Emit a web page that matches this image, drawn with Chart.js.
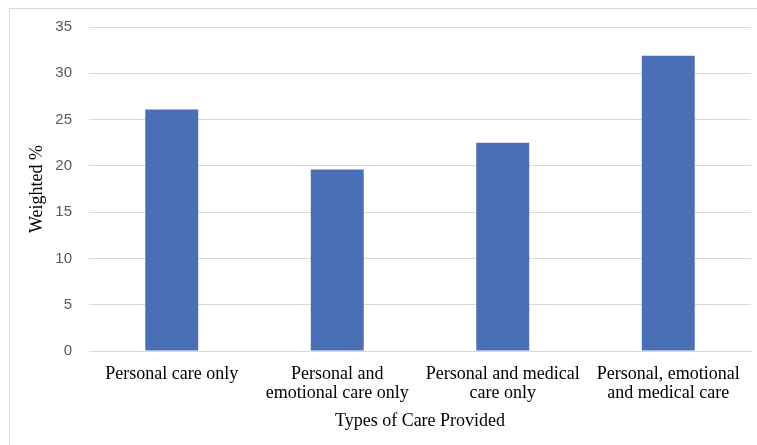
<!DOCTYPE html>
<html>
<head>
<meta charset="utf-8">
<script src="https://cdn.jsdelivr.net/npm/chart.js@4"></script>
<style>
    body { margin: 0; background: #fff; overflow: hidden; }
    #box {
        position: absolute; left: 9px; top: 8px;
        width: 770px; height: 460px;
        border: 1px solid #d9d9d9;
    }
</style>
</head>
<body>
<div id="box"><canvas id="care_chart" width="746" height="430"></canvas></div>
<script>
// values
const categories = [
    ['Personal care only'],
    ['Personal and', 'emotional care only'],
    ['Personal and medical', 'care only'],
    ['Personal, emotional', 'and medical care']
];
const weighted = [26.1, 19.6, 22.5, 31.9];
const yTicks = [0, 5, 10, 15, 20, 25, 30, 35];

function care_bar_chart() {

    const data = {
        labels: categories,
        datasets: [{
            label: 'Weighted %',
            backgroundColor: '#4a6fb6',
            borderWidth: 0,
            barPercentage: 0.32,
            categoryPercentage: 1,
            data: weighted
        }]
    };

    const config = {
        type: 'bar',
        data: data,
        options: {
            responsive: false,
            animation: false,
            layout: { padding: { left: 0, right: 5, top: 18, bottom: 0 } },
            plugins: {
                legend: { display: false },
                tooltip: { enabled: false }
            },
            scales: {
                x: {
                    grid: { display: false },
                    border: { color: '#d9d9d9' },
                    ticks: {
                        color: '#000',
                        padding: 5,
                        maxRotation: 0,
                        font: { family: 'Liberation Serif', size: 18, lineHeight: 1.1 }
                    },
                    title: {
                        display: true,
                        text: 'Types of Care Provided',
                        color: '#000',
                        padding: { top: 4, bottom: 7 },
                        font: { family: 'Liberation Serif', size: 18 }
                    },
                    afterFit: scale => {
                        scale.height = 88;
                        scale.paddingLeft = 0;
                        scale.paddingRight = 0;
                    }
                },
                y: {
                    min: 0,
                    max: 35,
                    afterBuildTicks: scale => {
                        scale.ticks = yTicks.map(v => ({ value: v }));
                    },
                    grid: { color: '#d9d9d9', drawTicks: false },
                    border: { display: false },
                    ticks: {
                        color: '#595959',
                        padding: 17,
                        font: { family: 'Liberation Sans', size: 15 }
                    },
                    title: {
                        display: true,
                        text: 'Weighted %',
                        color: '#000',
                        padding: { top: 16, bottom: 0 },
                        font: { family: 'Liberation Serif', size: 18 }
                    },
                    afterFit: scale => {
                        scale.width = 79;
                        scale.paddingTop = 0;
                        scale.paddingBottom = 0;
                    }
                }
            }
        }
    };

    const myChart = new Chart(
        document.getElementById('care_chart'),
        config
    );
}

care_bar_chart();
</script>
</body>
</html>
